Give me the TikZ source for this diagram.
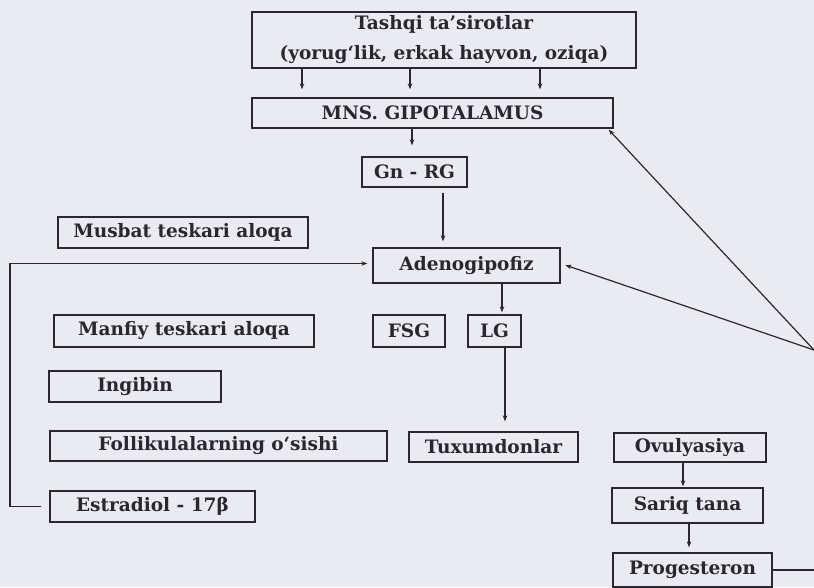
\documentclass[tikz,border=0pt]{standalone}
\usepackage{fontspec}
\setmainfont{DejaVu Serif}
\usetikzlibrary{arrows.meta,calc}
\definecolor{bg}{RGB}{233,234,242}
\definecolor{ink}{RGB}{40,40,46}
\begin{document}
\begin{tikzpicture}[x=1pt,y=-1pt,
  box/.style={draw=ink, line width=1.3pt, text=ink, inner sep=0pt,
    font=\bfseries\fontsize{18.5}{30}\selectfont, align=center},
  link/.style={draw=ink, line width=1.2pt},
  arr/.style={link, -{Stealth[length=6pt,width=4.5pt]}}]
\useasboundingbox (0,0) rectangle (814,587);
\fill[bg] (0,0) rectangle (814,587);

\node[box, minimum width=384pt, minimum height=56pt] (top) at (444,40)
  {Tashqi ta’sirotlar\\(yorug‘lik, erkak hayvon, oziqa)};
\node[box, minimum width=361pt, minimum height=30pt] (mns) at (432.5,113) {MNS. GIPOTALAMUS};
\node[box, minimum width=105pt, minimum height=30pt] (gnrg) at (414.5,172) {Gn - RG};
\node[box, minimum width=187pt, minimum height=35pt] (adeno) at (466.5,265.5) {Adenogipofiz};
\node[box, minimum width=250pt, minimum height=31pt] (musbat) at (183,232.5) {Musbat teskari aloqa};
\node[box, minimum width=260pt, minimum height=32pt] (manfiy) at (184,331) {Manfiy teskari aloqa};
\node[box, minimum width=72pt, minimum height=32pt] (fsg) at (409,331) {FSG};
\node[box, minimum width=53pt, minimum height=32pt] (lg) at (494.5,331) {LG};
\node[box, minimum width=172pt, minimum height=31pt] (ingibin) at (135,386.5) {Ingibin};
\node[box, minimum width=337pt, minimum height=30pt] (follik) at (218.5,446) {Follikulalarning o‘sishi};
\node[box, minimum width=169pt, minimum height=30pt] (tuxum) at (493.5,447) {Tuxumdonlar};
\node[box, minimum width=152pt, minimum height=29pt] (ovul) at (690,447.5) {Ovulyasiya};
\node[box, minimum width=151pt, minimum height=35pt] (sariq) at (687.5,505.5) {Sariq tana};
\node[box, minimum width=205pt, minimum height=31pt] (estr) at (152.5,506.5) {Estradiol - 17β};
\node[box, minimum width=159pt, minimum height=34pt] (proges) at (692.5,570) {Progesteron};

\coordinate (a1) at (302,0);
\coordinate (a2) at (410,0);
\coordinate (a3) at (540,0);
\coordinate (a4) at (412,0);
\coordinate (a5) at (443,0);
\coordinate (a6) at (502,0);
\coordinate (a7) at (505,0);
\coordinate (a8) at (683,0);
\coordinate (a9) at (689,0);
\coordinate (L) at (10,0);
\coordinate (R) at (814,0);
\coordinate (P) at (814,350);
\coordinate (ain) at ([yshift=2pt]adeno.west);
\coordinate (aout) at ([yshift=2pt]adeno.east);

\draw[arr, shorten >=8pt] (a1 |- top.south) -- (a1 |- mns.north);
\draw[arr, shorten >=8pt] (a2 |- top.south) -- (a2 |- mns.north);
\draw[arr, shorten >=8pt] (a3 |- top.south) -- (a3 |- mns.north);
\draw[arr, shorten >=11pt] (a4 |- mns.south) -- (a4 |- gnrg.north);
\draw[arr, shorten <=5pt, shorten >=6pt] (a5 |- gnrg.south) -- (a5 |- adeno.north);
\draw[arr, shorten >=2pt] (a6 |- adeno.south) -- (a6 |- lg.north);
\draw[arr, shorten >=10pt] (a7 |- lg.south) -- (a7 |- tuxum.north);
\draw[arr, shorten >=1pt] (a8 |- ovul.south) -- (a8 |- sariq.north);
\draw[arr, shorten >=5pt] (a9 |- sariq.south) -- (a9 |- proges.north);
\draw[link] (proges.east) -- (R |- proges.east);
\draw[arr] (P) -- ([xshift=-5pt,yshift=-1pt]mns.south east);
\draw[arr, shorten >=5pt] (P) -- (aout);
\draw[arr, shorten >=5pt] ([xshift=-8pt]estr.west) -- (L |- estr.west) -- (L |- ain) -- (ain);
\end{tikzpicture}
\end{document}
